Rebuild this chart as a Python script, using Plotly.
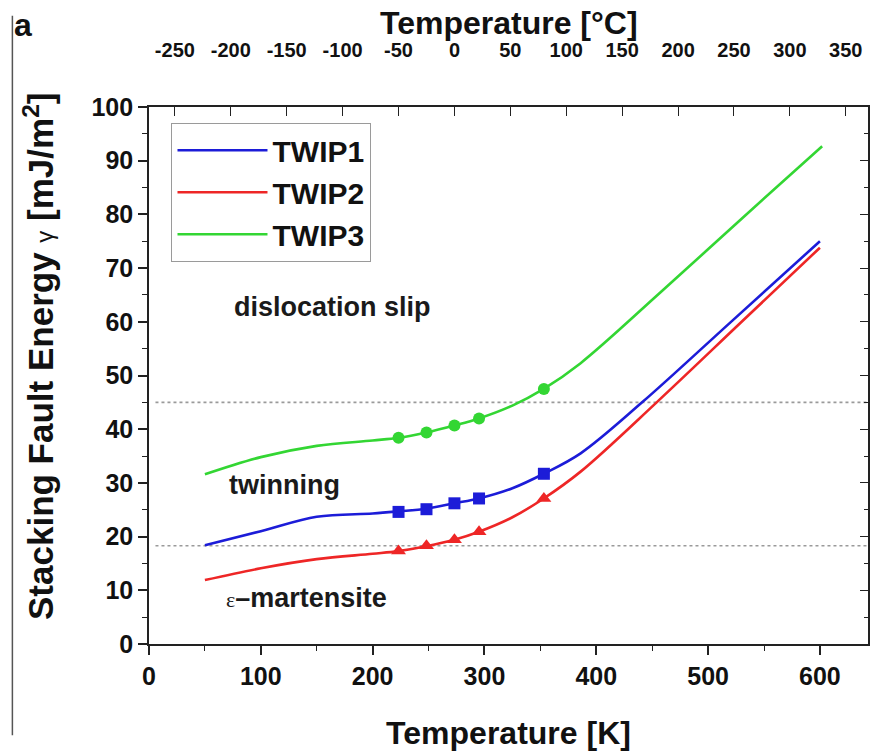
import plotly.graph_objects as go

# ---------------- data ----------------
series_names = ["TWIP1", "TWIP2", "TWIP3"]
series_colors = ["#1c1cd8", "#ee2626", "#33d633"]
marker_symbols = ["square", "triangle-up", "circle"]
marker_sizes = [12, 13, 12]

# calculated SFE curves (temperature in K)
twip1_T = [50, 100, 150, 200, 223, 248, 273, 295, 325, 353, 386, 441, 520, 600]
twip1_sfe = [18.4, 21.0, 23.7, 24.3, 24.7, 25.2, 26.2, 27.1, 29.0, 31.7, 35.5, 45.0, 59.9, 75.0]
twip2_T = [50, 100, 150, 200, 223, 248, 273, 295, 325, 353, 386, 454, 530, 600]
twip2_sfe = [11.9, 14.1, 15.8, 16.8, 17.3, 18.2, 19.4, 20.9, 23.6, 27.1, 32.1, 45.0, 60.0, 73.8]
twip3_T = [50, 100, 150, 200, 223, 248, 273, 295, 325, 353, 386, 457, 530, 602]
twip3_sfe = [31.6, 34.8, 36.9, 37.9, 38.4, 39.4, 40.7, 42.0, 44.4, 47.5, 52.3, 65.4, 79.2, 92.7]

# marked (tested) temperatures in degC
marked_C = [-50, -25, 0, 22, 80]
twip1_marked = [24.6, 25.1, 26.2, 27.1, 31.7]
twip2_marked = [17.3, 18.3, 19.4, 20.9, 27.1]
twip3_marked = [38.4, 39.4, 40.7, 42.0, 47.5]

# deformation-mechanism boundaries (mJ/m^2)
boundary_levels = [45.0, 18.3]

# region labels: (text, K, SFE)
region_text = ["dislocation slip", "twinning",
               "<span style='font-family:Liberation Serif;font-weight:normal;font-size:22px'>ε</span>–martensite"]
region_K = [164, 121, 141]
region_sfe = [62.8, 29.6, 8.6]

x_ticks_K = [0, 100, 200, 300, 400, 500, 600]
x_ticks_C = [-250, -200, -150, -100, -50, 0, 50, 100, 150, 200, 250, 300, 350]
x_ticklabels_C = ["-250", "-200", "-150", "-100", "-50", "0", "50", "100", "150", "200", "250", "300", "350"]
x_range_K = [0, 643]
K_OFFSET = 273.15
y_range = [0, 100]

curves_T = [twip1_T, twip2_T, twip3_T]
curves_sfe = [twip1_sfe, twip2_sfe, twip3_sfe]
marked_vals = [twip1_marked, twip2_marked, twip3_marked]

FONT = "Liberation Sans, Arial, sans-serif"
INK = "#111111"

fig = go.Figure()

for i, name in enumerate(series_names):
    fig.add_trace(go.Scatter(
        x=curves_T[i], y=curves_sfe[i], mode="lines", name=name,
        line=dict(color=series_colors[i], width=2.6, shape="spline", smoothing=1.0),
        legendgroup=name, xaxis="x", yaxis="y",
    ))

for i, name in enumerate(series_names):
    fig.add_trace(go.Scatter(
        x=marked_C, y=marked_vals[i], mode="markers", showlegend=False,
        marker=dict(color=series_colors[i], symbol=marker_symbols[i], size=marker_sizes[i],
                    line=dict(width=0)),
        xaxis="x2", yaxis="y2",
    ))

for lvl in boundary_levels:
    fig.add_shape(type="line", xref="paper", yref="y", x0=0.009, x1=1, y0=lvl, y1=lvl,
                  line=dict(color="#9a9a9a", width=1.6, dash="dot"), layer="below")

for t, xk, ys in zip(region_text, region_K, region_sfe):
    fig.add_annotation(x=xk, y=ys, xref="x", yref="y", text=f"<b>{t}</b>", showarrow=False,
                       font=dict(family=FONT, size=27, color="#1a1a1a"))

# axis titles placed as annotations, panel label and left frame line
fig.add_annotation(x=0.5, y=1.156, xref="paper", yref="paper", text="<b>Temperature [°C]</b>",
                   showarrow=False, xanchor="center", yanchor="middle",
                   font=dict(family=FONT, size=32, color=INK))
fig.add_annotation(x=-0.154, y=0.535, xref="paper", yref="paper", textangle=-90,
                   text="<b>Stacking Fault Energy <span style='font-weight:normal;font-size:24px'>γ</span> [mJ/m<sup>2</sup>]</b>",
                   showarrow=False, xanchor="center", yanchor="middle",
                   font=dict(family=FONT, size=35, color=INK))
fig.add_annotation(x=-0.19, y=1.19, xref="paper", yref="paper", text="<b>a</b>",
                   showarrow=False, xanchor="left", yanchor="top",
                   font=dict(family=FONT, size=32, color=INK))
fig.add_shape(type="line", xref="paper", yref="paper", x0=-0.19, x1=-0.19, y0=1.17, y1=-0.17,
              line=dict(color="#555", width=1.5))

tickfont = dict(family=FONT, size=25, color=INK, weight="bold")
fig.update_layout(
    width=870, height=756,
    margin=dict(l=149, r=2, t=107, b=112),
    paper_bgcolor="white", plot_bgcolor="white",
    showlegend=True,
    legend=dict(x=0.031, y=0.97, xanchor="left", yanchor="top",
                bgcolor="white", bordercolor="#9a9a9a", borderwidth=1.2,
                font=dict(family=FONT, size=30, color=INK, weight="bold"),
                itemwidth=90, tracegroupgap=0),
    xaxis=dict(range=x_range_K, tickvals=x_ticks_K, showline=True, linecolor="#222", linewidth=1.6,
               ticks="outside", ticklen=9, tickwidth=1.6, tickcolor="#222", automargin=False,
               minor=dict(dtick=50, ticks="outside", ticklen=5, tickwidth=1.4, tickcolor="#222"),
               showgrid=False, zeroline=False, tickfont=tickfont,
               title=dict(text="Temperature [K]",
                          font=dict(family=FONT, size=32, color=INK, weight="bold"), standoff=33)),
    xaxis2=dict(overlaying="x", side="top", range=[x_range_K[0] - K_OFFSET, x_range_K[1] - K_OFFSET],
                tickvals=x_ticks_C, ticktext=x_ticklabels_C, showline=True, linecolor="#222",
                linewidth=1.6, ticks="inside", ticklen=9, tickwidth=1.4, tickcolor="#222",
                showgrid=False, zeroline=False, ticklabelstandoff=40, automargin=False,
                tickfont=dict(family=FONT, size=20, color=INK, weight="bold")),
    yaxis=dict(range=y_range, dtick=10, showline=True, linecolor="#222", linewidth=1.6,
               ticks="outside", ticklen=9, tickwidth=1.6, tickcolor="#222", automargin=False,
               minor=dict(dtick=5, ticks="outside", ticklen=5, tickwidth=1.4, tickcolor="#222"),
               showgrid=False, zeroline=False, tickfont=tickfont),
    yaxis2=dict(overlaying="y", side="right", range=y_range, dtick=10, showline=True,
                linecolor="#222", linewidth=1.6, ticks="inside", ticklen=8, tickwidth=1.4,
                tickcolor="#222", showticklabels=False, showgrid=False, zeroline=False,
                automargin=False,
                minor=dict(dtick=5, ticks="inside", ticklen=4, tickwidth=1.2, tickcolor="#222")),
)

fig.write_html("out.html", config={"displayModeBar": False},
               post_script="document.body.style.margin='0px';")
